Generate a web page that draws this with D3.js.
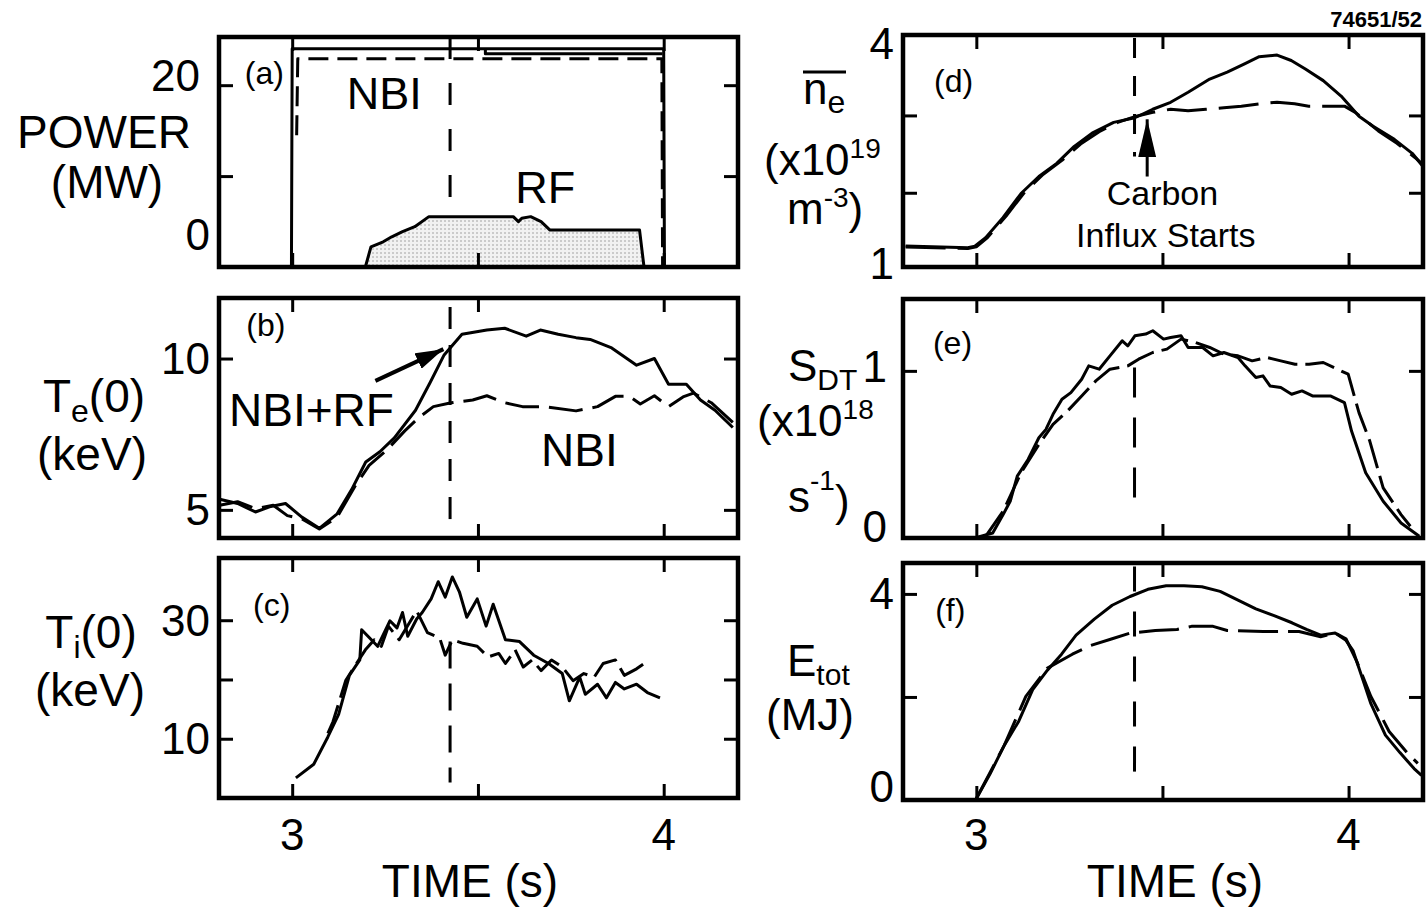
<!DOCTYPE html>
<html>
<head>
<meta charset="utf-8">
<script src="https://cdn.jsdelivr.net/npm/d3@7"></script>
<style>
body { margin: 0; background: #fff; }
svg text { font-family: "Liberation Sans", Arial, Helvetica, sans-serif; fill: #000; }
</style>
</head>
<body>
<svg id="chart" width="1426" height="908"></svg>
<script>
// ---- data (time in s) ----
var timeDomain = [2.803, 4.2];
var timeTicks = [3, 3.5, 4];
var timeTickLabels = [[3, "3"], [4, "4"]];
var carbonTime = 3.425;

// (a) heating power, MW
var nbiRfPower = [[2.998,0],[3.0,24.0],[4.0,24.0],[4.002,0]];
var nbiRfPower2 = [[3.52,24.0],[3.52,23.45],[3.997,23.45]];
var nbiPower = [[3.012,14.5],[3.015,22.9],[3.995,22.9],[3.997,0]];
var rfPower = [[3.197,0],[3.212,2.22],[3.245,2.77],[3.268,3.32],[3.297,3.88],[3.33,4.43],[3.368,5.54],[3.595,5.54],
  [3.609,4.99],[3.618,5.36],[3.642,5.54],[3.670,4.99],[3.694,4.06],[3.935,4.06],[3.947,0]];

// (b) Te(0), keV
var teNbiRf = [[2.805,5.35],[2.853,5.21],[2.901,4.93],[2.939,5.10],[2.982,5.21],[3.026,4.76],[3.073,4.39],[3.121,4.87],
  [3.160,5.67],[3.198,6.58],[3.236,6.92],[3.275,7.38],[3.332,8.29],[3.371,9.20],[3.409,10.12],[3.457,10.80],[3.524,10.94],
  [3.572,11.00],[3.630,10.74],[3.668,10.94],[3.716,10.80],[3.764,10.69],[3.802,10.63],[3.860,10.35],[3.927,9.78],
  [3.975,10.00],[4.013,9.15],[4.061,9.15],[4.099,8.63],[4.138,8.29],[4.186,7.72]];
var teNbi = [[2.805,5.15],[2.853,5.27],[2.901,5.04],[2.949,5.15],[2.987,4.81],[3.026,4.70],[3.073,4.37],[3.121,4.76],
  [3.169,5.78],[3.207,6.47],[3.255,6.98],[3.303,7.61],[3.342,8.06],[3.380,8.41],[3.428,8.54],[3.486,8.63],[3.524,8.77],
  [3.572,8.54],[3.620,8.41],[3.678,8.41],[3.764,8.27],[3.822,8.41],[3.870,8.75],[3.908,8.75],[3.937,8.50],[3.975,8.77],
  [4.013,8.41],[4.052,8.73],[4.080,8.86],[4.128,8.54],[4.186,7.89]];

// (c) Ti(0), keV
var tiNbiRf = [[3.010,3.4],[3.058,5.7],[3.096,10.3],[3.125,14.1],[3.154,20.7],[3.182,23.3],[3.187,28.4],[3.230,25.6],
  [3.263,29.9],[3.282,28.7],[3.297,31.3],[3.311,27.3],[3.335,30.2],[3.350,31.3],[3.374,33.6],[3.393,36.5],[3.412,33.9],
  [3.431,37.3],[3.450,34.8],[3.470,30.5],[3.498,33.6],[3.522,29.0],[3.541,32.7],[3.574,26.7],[3.612,26.4],[3.650,24.1],
  [3.690,22.7],[3.727,21.0],[3.746,16.4],[3.774,20.4],[3.789,17.5],[3.822,19.2],[3.846,16.9],[3.870,19.5],[3.894,18.4],
  [3.927,19.2],[3.956,17.8],[3.990,16.9]];
var tiNbi = [[3.096,10.9],[3.110,12.9],[3.144,19.8],[3.173,22.7],[3.197,25.0],[3.221,26.7],[3.240,25.6],[3.259,29.0],
  [3.288,26.7],[3.316,29.6],[3.335,31.6],[3.364,27.9],[3.397,27.0],[3.412,24.1],[3.431,26.7],[3.460,26.1],[3.498,25.6],
  [3.527,23.8],[3.556,24.4],[3.574,22.7],[3.600,25.0],[3.622,22.1],[3.646,23.3],[3.670,21.5],[3.698,23.3],[3.727,22.1],
  [3.756,19.8],[3.785,21.0],[3.813,20.4],[3.837,22.7],[3.870,23.3],[3.894,20.7],[3.927,21.8],[3.961,23.3]];

// (d) line-averaged density, 1e19 m^-3
var neNbiRf = [[2.81,1.31],[2.977,1.29],[2.996,1.31],[3.025,1.42],[3.072,1.68],[3.12,1.99],[3.168,2.21],[3.216,2.38],
  [3.263,2.60],[3.311,2.77],[3.369,2.91],[3.426,2.97],[3.474,3.08],[3.522,3.17],[3.569,3.30],[3.627,3.47],[3.674,3.56],
  [3.722,3.67],[3.76,3.76],[3.808,3.78],[3.846,3.71],[3.884,3.60],[3.932,3.45],[3.98,3.25],[4.028,2.99],[4.066,2.86],
  [4.123,2.69],[4.171,2.51],[4.2,2.34]];
var neNbi = [[2.81,1.30],[2.977,1.28],[3.0,1.30],[3.03,1.42],[3.08,1.70],[3.13,2.01],[3.18,2.24],[3.23,2.42],[3.28,2.63],
  [3.33,2.79],[3.38,2.91],[3.43,2.99],[3.474,3.04],[3.522,3.08],[3.569,3.06],[3.617,3.08],[3.665,3.10],[3.712,3.12],
  [3.76,3.15],[3.808,3.17],[3.855,3.15],[3.893,3.12],[3.989,3.12],[4.018,3.04],[4.047,2.93],[4.08,2.80],[4.13,2.64],
  [4.18,2.45],[4.2,2.36]];

// (e) DT neutron rate, 1e18 s^-1
var sdtNbiRf = [[2.996,0],[3.044,0.03],[3.072,0.14],[3.091,0.22],[3.11,0.37],[3.139,0.47],[3.168,0.60],[3.187,0.65],
  [3.206,0.74],[3.23,0.83],[3.254,0.87],[3.283,0.95],[3.302,1.03],[3.33,1.01],[3.359,1.09],[3.392,1.18],[3.407,1.15],
  [3.426,1.21],[3.455,1.22],[3.474,1.24],[3.503,1.19],[3.522,1.20],[3.55,1.21],[3.569,1.14],[3.608,1.14],[3.636,1.09],
  [3.665,1.11],[3.703,1.08],[3.722,1.03],[3.751,0.96],[3.77,0.97],[3.789,0.91],[3.818,0.90],[3.847,0.86],[3.875,0.88],
  [3.903,0.85],[3.951,0.85],[3.989,0.81],[4.008,0.64],[4.046,0.39],[4.093,0.22],[4.141,0.09],[4.19,0.01]];
var sdtNbi = [[3.025,0.01],[3.072,0.16],[3.12,0.39],[3.168,0.56],[3.206,0.68],[3.245,0.76],[3.283,0.85],[3.321,0.94],
  [3.359,1.01],[3.407,1.03],[3.436,1.07],[3.474,1.11],[3.512,1.13],[3.55,1.19],[3.589,1.17],[3.627,1.14],[3.665,1.10],
  [3.703,1.09],[3.741,1.06],[3.78,1.08],[3.818,1.06],[3.856,1.04],[3.894,1.04],[3.932,1.05],[3.97,1.01],[3.999,0.98],
  [4.028,0.75],[4.057,0.58],[4.093,0.30],[4.141,0.14],[4.166,0.07]];

// (f) stored energy, MJ
var etotNbiRf = [[2.998,0],[3.037,0.51],[3.075,1.06],[3.114,1.53],[3.152,2.15],[3.191,2.52],[3.229,2.83],[3.268,3.20],
  [3.317,3.51],[3.365,3.78],[3.413,3.95],[3.461,4.09],[3.51,4.16],[3.558,4.16],[3.606,4.14],[3.655,4.05],[3.703,3.88],
  [3.751,3.71],[3.8,3.58],[3.848,3.44],[3.887,3.31],[3.925,3.20],[3.964,3.24],[3.993,3.10],[4.012,2.90],[4.041,2.28],
  [4.06,1.87],[4.099,1.26],[4.138,0.92],[4.176,0.61],[4.196,0.48]];
var etotNbi = [[2.998,0],[3.075,1.06],[3.133,2.01],[3.191,2.56],[3.258,2.83],[3.307,3.0],[3.365,3.13],[3.413,3.24],
  [3.481,3.29],[3.539,3.31],[3.578,3.37],[3.636,3.37],[3.674,3.29],[3.771,3.27],[3.867,3.27],[3.925,3.17],[3.964,3.24],
  [3.993,3.13],[4.022,2.69],[4.06,2.01],[4.109,1.33],[4.157,0.92],[4.186,0.71]];

// ---- drawing ----
var svg = d3.select("#chart");
var defs = svg.append("defs");

var stip = defs.append("pattern").attr("id", "stipple").attr("width", 4).attr("height", 4)
  .attr("patternUnits", "userSpaceOnUse");
stip.append("rect").attr("width", 4).attr("height", 4).attr("fill", "#f2f2f2");
stip.append("circle").attr("cx", 1).attr("cy", 1).attr("r", 0.8).attr("fill", "#9a9a9a");

function arrowMarker(id, len, wid) {
  defs.append("marker").attr("id", id).attr("viewBox", "0 0 10 10")
    .attr("refX", 10).attr("refY", 5).attr("markerUnits", "userSpaceOnUse")
    .attr("markerWidth", len).attr("markerHeight", wid).attr("orient", "auto")
    .attr("preserveAspectRatio", "none")
    .append("path").attr("d", "M0,0L10,5L0,10z").attr("fill", "#000");
}
arrowMarker("arrowB", 28, 17);
arrowMarker("arrowD", 38, 18);

function panel(p) {
  var x = d3.scaleLinear().domain(timeDomain).range([p.left, p.right]);
  var y = d3.scaleLinear().domain(p.yDomain).range([p.bottom, p.top]);
  var g = svg.append("g");
  defs.append("clipPath").attr("id", "clip" + p.id).append("rect")
    .attr("x", p.left).attr("y", p.top).attr("width", p.right - p.left).attr("height", p.bottom - p.top);
  var plot = g.append("g").attr("clip-path", "url(#clip" + p.id + ")");
  var line = d3.line().x(function(d) { return x(d[0]); }).y(function(d) { return y(d[1]); });

  if (p.fill) {
    plot.append("path").datum(p.fill).attr("d", line).attr("fill", "url(#stipple)")
      .attr("stroke", "#000").attr("stroke-width", 3).attr("stroke-linejoin", "round");
  }
  p.series.forEach(function(s) {
    plot.append("path").datum(s.data).attr("d", line).attr("fill", "none")
      .attr("stroke", "#000").attr("stroke-width", 3).attr("stroke-linejoin", "round")
      .attr("stroke-dasharray", s.dash || null);
  });
  // comparison time marker
  plot.append("line").attr("x1", x(carbonTime)).attr("x2", x(carbonTime))
    .attr("y1", y(p.mark[0])).attr("y2", y(p.mark[1]))
    .attr("stroke", "#000").attr("stroke-width", 3).attr("stroke-dasharray", p.markDash || "22,16");

  // inward ticks on all four sides
  var tl = 14;
  var axes = [
    [d3.axisLeft(y).tickValues(p.yTicks), "translate(" + p.left + ",0)"],
    [d3.axisRight(y).tickValues(p.yTicks), "translate(" + p.right + ",0)"],
    [d3.axisBottom(x).tickValues(timeTicks), "translate(0," + p.bottom + ")"],
    [d3.axisTop(x).tickValues(timeTicks), "translate(0," + p.top + ")"]
  ];
  axes.forEach(function(a) {
    var ax = g.append("g").attr("transform", a[1]).call(a[0].tickSize(-tl).tickFormat(""));
    ax.select(".domain").remove();
    ax.selectAll("line").attr("stroke", "#000").attr("stroke-width", 3);
  });
  g.append("rect").attr("x", p.left).attr("y", p.top)
    .attr("width", p.right - p.left).attr("height", p.bottom - p.top)
    .attr("fill", "none").attr("stroke", "#000").attr("stroke-width", 4.5);

  // tick labels
  p.labels.forEach(function(l, i) {
    var nudge = (p.nudge && p.nudge[i]) || [0, 0];
    g.append("text").attr("x", p.left - (p.labelGap || 9) + nudge[0]).attr("y", y(l[0]) + nudge[1])
      .attr("text-anchor", "end").attr("dominant-baseline", "central")
      .style("font-size", "44px").text(l[1]);
  });
  // panel tag
  g.append("text").attr("x", x(p.tag[0])).attr("y", y(p.tag[1])).attr("text-anchor", "middle")
    .attr("dominant-baseline", "central").style("font-size", "32px").text("(" + p.id + ")");
  return { x: x, y: y, g: g };
}

function note(g, xx, yy, txt, size) {
  return g.append("text").attr("x", xx).attr("y", yy).attr("text-anchor", "middle")
    .attr("dominant-baseline", "central").style("font-size", (size || 46) + "px").text(txt);
}

var L = [219, 738], R = [903, 1423];

var pa = panel({ id: "a", left: L[0], right: L[1], top: 37, bottom: 267, yDomain: [0, 25.3],
  yTicks: [10, 20], labels: [[20, "20"], [0, "0"]], nudge: [[-10, -10], [0, -33]],
  tag: [2.925, 21.3], mark: [25.3, 6.5], markDash: "22,24", fill: rfPower,
  series: [{ data: nbiRfPower }, { data: nbiRfPower2 }, { data: nbiPower, dash: "20,9" }] });
note(pa.g, pa.x(3.248), pa.y(19.1), "NBI", 45);
note(pa.g, pa.x(3.681), pa.y(8.8), "RF", 45);

var pb = panel({ id: "b", left: L[0], right: L[1], top: 298, bottom: 538, yDomain: [4.07, 12],
  yTicks: [5, 10], labels: [[10, "10"], [5, "5"]],
  tag: [2.929, 11.1], mark: [11.7, 4.3],
  series: [{ data: teNbiRf }, { data: teNbi, dash: "34,10" }] });
note(pb.g, pb.x(3.052), pb.y(8.3), "NBI+RF", 46);
note(pb.g, pb.x(3.773), pb.y(6.98), "NBI", 46);
pb.g.append("line").attr("x1", pb.x(3.224)).attr("y1", pb.y(9.26)).attr("x2", pb.x(3.407)).attr("y2", pb.y(10.31))
  .attr("stroke", "#000").attr("stroke-width", 4).attr("marker-end", "url(#arrowB)");

var pc = panel({ id: "c", left: L[0], right: L[1], top: 558, bottom: 798, yDomain: [0, 40.5],
  yTicks: [10, 20, 30], labels: [[30, "30"], [10, "10"]],
  tag: [2.945, 32.6], mark: [26.4, 2.6], markDash: "27,15",
  series: [{ data: tiNbiRf }, { data: tiNbi, dash: "30,8" }] });

var pd = panel({ id: "d", left: R[0], right: R[1], top: 35, bottom: 267, yDomain: [1.04, 4.04],
  yTicks: [2, 3], labels: [[4.04, "4"], [1.04, "1"]], nudge: [[0, 8], [0, -4]],
  tag: [2.939, 3.45], mark: [4.0, 2.47], markDash: "20,18",
  series: [{ data: neNbiRf }, { data: neNbi, dash: "40,12" }] });
pd.g.append("line").attr("x1", pd.x(3.459)).attr("y1", pd.y(2.21)).attr("x2", pd.x(3.459)).attr("y2", pd.y(2.95))
  .attr("stroke", "#000").attr("stroke-width", 3).attr("marker-end", "url(#arrowD)");
note(pd.g, pd.x(3.50), pd.y(2.0), "Carbon", 34);
note(pd.g, pd.x(3.509), pd.y(1.46), "Influx Starts", 34);

var pe = panel({ id: "e", left: R[0], right: R[1], top: 299, bottom: 538, yDomain: [0, 1.43],
  yTicks: [1], labels: [[1, "1"], [0, "0"]], nudge: [[0, -4], [0, -12]], labelGap: 16,
  tag: [2.936, 1.167], mark: [1.02, 0.15], markDash: "30,20",
  series: [{ data: sdtNbiRf }, { data: sdtNbi, dash: "30,8" }] });

var pf = panel({ id: "f", left: R[0], right: R[1], top: 563, bottom: 800, yDomain: [0, 4.6],
  yTicks: [2, 4], labels: [[4, "4"], [0, "0"]], nudge: [[0, 0], [0, -14]],
  tag: [2.93, 3.69], mark: [4.53, 0.17], markDash: "25,20",
  series: [{ data: etotNbiRf }, { data: etotNbi, dash: "40,10" }] });

// time axes labels
[pc, pf].forEach(function(p) {
  timeTickLabels.forEach(function(t) {
    p.g.append("text").attr("x", p.x(t[0])).attr("y", 850).attr("text-anchor", "middle")
      .style("font-size", "44px").text(t[1]);
  });
});
svg.append("text").attr("x", 470).attr("y", 897).attr("text-anchor", "middle").style("font-size", "46px").text("TIME (s)");
svg.append("text").attr("x", 1175).attr("y", 897).attr("text-anchor", "middle").style("font-size", "46px").text("TIME (s)");

// axis titles built from tspans
function title(xx, yy, parts, anchor, size) {
  var t = svg.append("text").attr("x", xx).attr("y", yy).attr("text-anchor", anchor || "middle")
    .style("font-size", (size || 46) + "px");
  var shift = 0;
  parts.forEach(function(pt) {
    var s = t.append("tspan").attr("dy", (pt.dy || 0) - shift).text(pt.text);
    if (pt.size) s.style("font-size", pt.size + "px");
    shift = pt.dy || 0;
  });
  return t;
}
title(104, 148, [{ text: "POWER" }]);
title(107, 198, [{ text: "(MW)" }]);
title(94, 412, [{ text: "T" }, { text: "e", dy: 10, size: 32 }, { text: "(0)" }]);
title(92, 470, [{ text: "(keV)" }]);
title(91, 648, [{ text: "T" }, { text: "i", dy: 10, size: 32 }, { text: "(0)" }]);
title(90, 706, [{ text: "(keV)" }]);

// right column titles
title(803, 104, [{ text: "n" }, { text: "e", dy: 9, size: 32 }], "start", 44);
svg.append("line").attr("x1", 803).attr("x2", 846).attr("y1", 72).attr("y2", 72).attr("stroke", "#000").attr("stroke-width", 3);
title(764, 175, [{ text: "(x10" }, { text: "19", dy: -17, size: 28 }], "start", 44);
title(787, 224, [{ text: "m" }, { text: "-3", dy: -17, size: 28 }, { text: ")" }], "start", 44);

title(788, 381, [{ text: "S" }, { text: "DT", dy: 9, size: 30 }], "start", 44);
title(757, 436, [{ text: "(x10" }, { text: "18", dy: -17, size: 28 }], "start", 44);
title(788, 512, [{ text: "s" }, { text: "-1", dy: -22, size: 28 }, { text: ")", dy: 4 }], "start", 44);

title(787, 676, [{ text: "E" }, { text: "tot", dy: 9, size: 30 }], "start", 44);
title(810, 730, [{ text: "(MJ)" }], "middle", 44);

svg.append("text").attr("x", 1422).attr("y", 27).attr("text-anchor", "end")
  .style("font-size", "22px").style("font-weight", "bold").text("74651/52");
</script>
</body>
</html>
